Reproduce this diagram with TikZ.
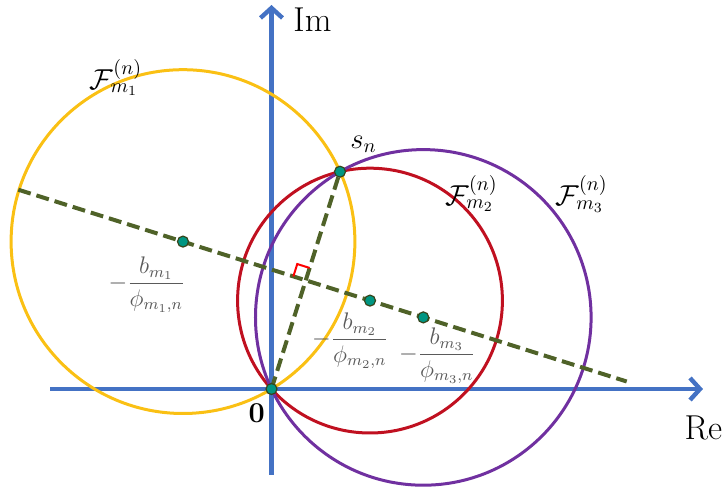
\documentclass[tikz,border=0pt]{standalone}
\usepackage{amsmath}
\usepackage{amssymb}
\usepackage{tikz}
\usetikzlibrary{arrows.meta,calc}
\definecolor{axisblue}{RGB}{68,114,196}
\definecolor{circA}{RGB}{250,192,20}
\definecolor{circB}{RGB}{192,16,32}
\definecolor{circC}{RGB}{112,48,160}
\definecolor{lineG}{RGB}{79,98,40}
\definecolor{dotT}{RGB}{0,150,130}
\definecolor{labG}{RGB}{90,90,90}

\begin{document}
\begin{tikzpicture}[x=0.5pt,y=0.5pt,
  axis/.style={line width=2.2pt,draw=axisblue,-{Straight Barb[length=5pt,width=11pt]}},
  ring/.style={line width=1.5pt},
  centerline/.style={draw=lineG,line width=2pt,dash pattern=on 6.5pt off 3pt},
  ctr/.style={circle,fill=dotT,draw=lineG!70!black,line width=0.6pt,inner sep=0pt,minimum size=5.5pt},
  frac/.style={text=labG,font=\large}]
  \useasboundingbox (-271.5,-99) rectangle (453.5,389);
  \coordinate (xl) at (-221,0);
  \coordinate (xr) at (431.5,0);
  \coordinate (yd) at (0,-86);
  \coordinate (yu) at (0,384);
  \draw[axis] (xl) -- (xr);
  \draw[axis] (yd) -- (yu);
  \coordinate (O) at (0,0);
  \coordinate (S) at (68.5,217.3);
  \coordinate (c1) at (-88.5,147.4);
  \coordinate (c2) at (98.5,88.4);
  \coordinate (c3) at (151.8,71.6);
  \draw[ring,circA] (c1) circle[radius=171.9];
  \draw[ring,circB] (c2) circle[radius=132.4];
  \draw[ring,circC] (c3) circle[radius=167.8];
  \coordinate (la) at (-253.2,199.3);
  \coordinate (lb) at (355.2,7.5);
  \draw[centerline] (la) -- (lb);
  \draw[centerline] (O) -- (S);
  \coordinate (M) at ($(O)!0.5!(S)$);
  \coordinate (ra) at ($(M)!6.5pt!(S)$);
  \coordinate (rb) at ($(M)!6.5pt!(la)$);
  \draw[red,line width=1pt] (ra) -- ($(ra)+(rb)-(M)$) -- (rb);
  \node[ctr] (d1) at (c1) {};
  \node[ctr] (d2) at (c2) {};
  \node[ctr] (d3) at (c3) {};
  \node[ctr] (dO) at (O) {};
  \node[ctr] (dS) at (S) {};
  \node[font=\LARGE] (im) at (41,369) {Im};
  \node[font=\LARGE] (re) at (432,-39) {Re};
  \node[font=\Large] (zero) at (-14.8,-24.5) {$\mathbf{0}$};
  \node[font=\Large] (sn) at (92,245) {$s_n$};
  \node[font=\Large] (f1) at (-155.5,311.5) {$\mathcal{F}_{m_1}^{(n)}$};
  \node[font=\Large] (f2) at (200.2,195.5) {$\mathcal{F}_{m_2}^{(n)}$};
  \node[font=\Large] (f3) at (310.2,195) {$\mathcal{F}_{m_3}^{(n)}$};
  \node[frac] (q1) at (-124.5,104) {$-\dfrac{b_{m_1}}{\phi_{m_1,n}}$};
  \node[frac] (q2) at (79,48) {$-\dfrac{b_{m_2}}{\phi_{m_2,n}}$};
  \node[frac] (q3) at (166,33) {$-\dfrac{b_{m_3}}{\phi_{m_3,n}}$};
\end{tikzpicture}
\end{document}
